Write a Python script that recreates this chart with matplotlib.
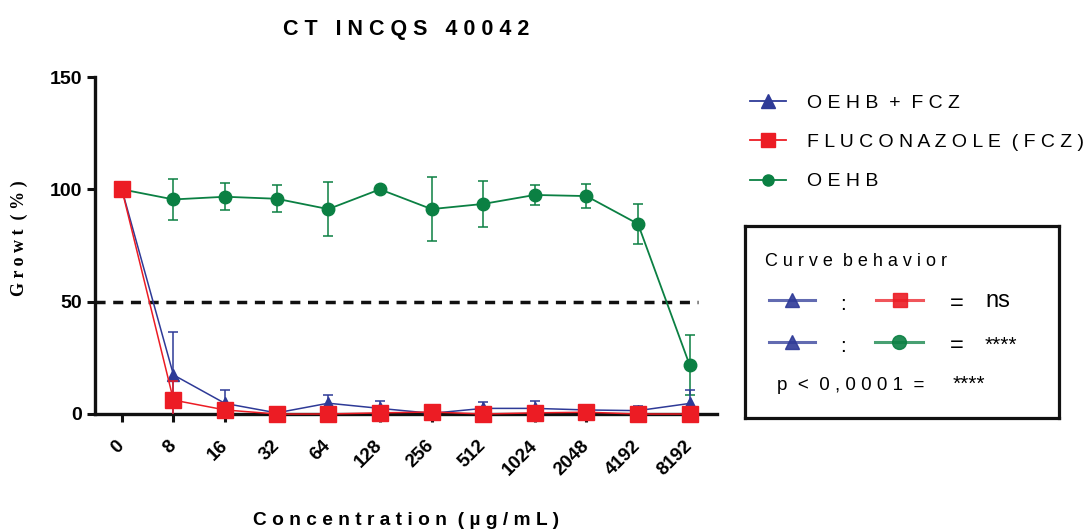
import numpy as np
import matplotlib
matplotlib.use("Agg")
import matplotlib.pyplot as plt
from matplotlib.lines import Line2D

plt.rcParams['font.family'] = ['Liberation Sans', 'DejaVu Sans']

# ---- data -------------------------------------------------------------
concentrations = ['0', '8', '16', '32', '64', '128', '256', '512',
                  '1024', '2048', '4192', '8192']
oehb_fcz = [100, 17.4, 4.7, 0.5, 4.8, 2.5, 0.3, 2.5, 2.5, 1.8, 1.5, 4.7]
oehb_fcz_err = [0, 19.0, 6.1, 0.5, 3.8, 3.3, 0.5, 2.7, 3.1, 2.3, 2.0, 5.8]
fcz = [100, 6.2, 1.8, 0.0, 0.0, 0.5, 0.9, 0.0, 0.5, 0.8, 0.0, 0.0]
fcz_err = [0, 8.5, 0, 0, 0, 0, 0, 0, 0, 0, 0, 0]
oehb = [100, 95.5, 96.7, 95.8, 91.2, 100, 91.2, 93.5, 97.5, 97.0, 84.6, 21.8]
oehb_err = [0, 9.2, 6.0, 6.0, 12.0, 0, 14.2, 10.2, 4.5, 5.3, 9.0, 13.3]
threshold = 50
y_ticks = [0, 50, 100, 150]

labels = ['O E H B  +  F C Z', 'F L U C O N A Z O L E  ( F C Z )', 'O E H B']

BLUE = '#2E3A97'
RED = '#EC1C24'
GREEN = '#0B8043'

W, H = 1086, 531
fig = plt.figure(figsize=(W / 100, H / 100), dpi=100)

def fx(px):
    return px / W

def fy(py):
    return 1 - py / H

ax = fig.add_axes([fx(95), fy(414), fx(717) - fx(95), fy(77) - fy(414)])
x = np.arange(len(concentrations))

def series(y, err, color, marker, ms, lw, z):
    eb = ax.errorbar(x, y, yerr=err, color=color, marker=marker, ms=ms,
                     lw=lw, elinewidth=1.1, capsize=3.8, capthick=1.1,
                     zorder=z, mec=color, mfc=color)
    eb[0].set_clip_on(False)
    return eb

series(oehb, oehb_err, GREEN, 'o', 9, 1.3, 3)
series(oehb_fcz, oehb_fcz_err, BLUE, '^', 8, 1.1, 4)
series(fcz, fcz_err, RED, 's', 11, 1.1, 5)

ax.axhline(threshold, xmin=0, xmax=0.969, color='#111111', lw=2.5,
           dashes=(2.9, 2.2), zorder=2)

ax.set_xlim(-0.52, len(concentrations) - 0.47)
ax.set_ylim(0, 150)
ax.set_yticks(y_ticks)
ax.set_yticklabels([str(t) for t in y_ticks], fontsize=14, fontweight='bold')
ax.set_xticks(x)
ax.set_xticklabels(concentrations, fontsize=13.5, fontweight='bold',
                   rotation=45, ha='right', va='center', rotation_mode='anchor')
for s in ['top', 'right']:
    ax.spines[s].set_visible(False)
for s in ['left', 'bottom']:
    ax.spines[s].set_linewidth(2.4)
    ax.spines[s].set_color('#111111')
ax.tick_params(axis='both', direction='out', length=6, width=2.2, color='#111111')
ax.tick_params(axis='x', pad=15)
ax.tick_params(axis='y', pad=3.5)

ax.set_xlabel('C o n c e n t r a t i o n  ( µ g / m L )', fontsize=13.8,
              fontweight='bold', va='center')
ax.xaxis.set_label_coords(0.5, -0.315)
ax.set_ylabel('G r o w t  ( % )', fontsize=13, fontweight='bold',
              family=['Liberation Serif', 'DejaVu Serif'], va='center')
ax.yaxis.set_label_coords(-0.121, 0.522)

fig.text(fx(406), fy(30), 'C T   I N C Q S   4 0 0 4 2', fontsize=15.5,
         fontweight='bold', ha='center', va='center')

# legend
handles = [
    Line2D([], [], color=BLUE, marker='^', ms=9.5, lw=1.3),
    Line2D([], [], color=RED, marker='s', ms=9.5, lw=1.3),
    Line2D([], [], color=GREEN, marker='o', ms=8, lw=1.3),
]
fig.legend(handles, labels, loc='upper left', bbox_to_anchor=(fx(750), fy(94)),
           frameon=False, fontsize=14, handlelength=1.85, handletextpad=1.08,
           labelspacing=1.12, borderpad=0, borderaxespad=0)

# curve behaviour box
bx = fig.add_axes([fx(745), fy(418), fx(1059) - fx(745), fy(226) - fy(418)])
bx.set_xlim(745, 1059)
bx.set_ylim(418, 226)
bx.set_xticks([])
bx.set_yticks([])
for s in bx.spines.values():
    s.set_linewidth(2.3)
    s.set_color('#111111')

bx.text(765, 262, 'C u r v e  b e h a v i o r', fontsize=13, ha='left', va='center')

def mini(x0, x1, yy, color, marker, ms):
    bx.plot([x0, x1], [yy, yy], color=color, lw=2.2, alpha=0.75)
    bx.plot([(x0 + x1) / 2], [yy], color=color, marker=marker, ms=ms, alpha=0.9)

mini(769, 815, 300, BLUE, '^', 10)
mini(876, 923, 300, RED, 's', 10)
mini(769, 815, 342, BLUE, '^', 10)
mini(875, 923, 342, GREEN, 'o', 10)
bx.text(843, 304, ':', fontsize=15, ha='center', va='center')
bx.text(843, 346, ':', fontsize=15, ha='center', va='center')
bx.text(957, 304, '=', fontsize=17, ha='center', va='center')
bx.text(957, 346, '=', fontsize=17, ha='center', va='center')
bx.text(985, 301, 'ns', fontsize=17, ha='left', va='center')
bx.text(985, 345, '****', fontsize=15, ha='left', va='center')
bx.text(777, 385, 'p  <  0 , 0 0 0 1  =', fontsize=13.5, ha='left', va='center')
bx.text(953, 384, '****', fontsize=15, ha='left', va='center')

fig.savefig('out.png', dpi=100)
